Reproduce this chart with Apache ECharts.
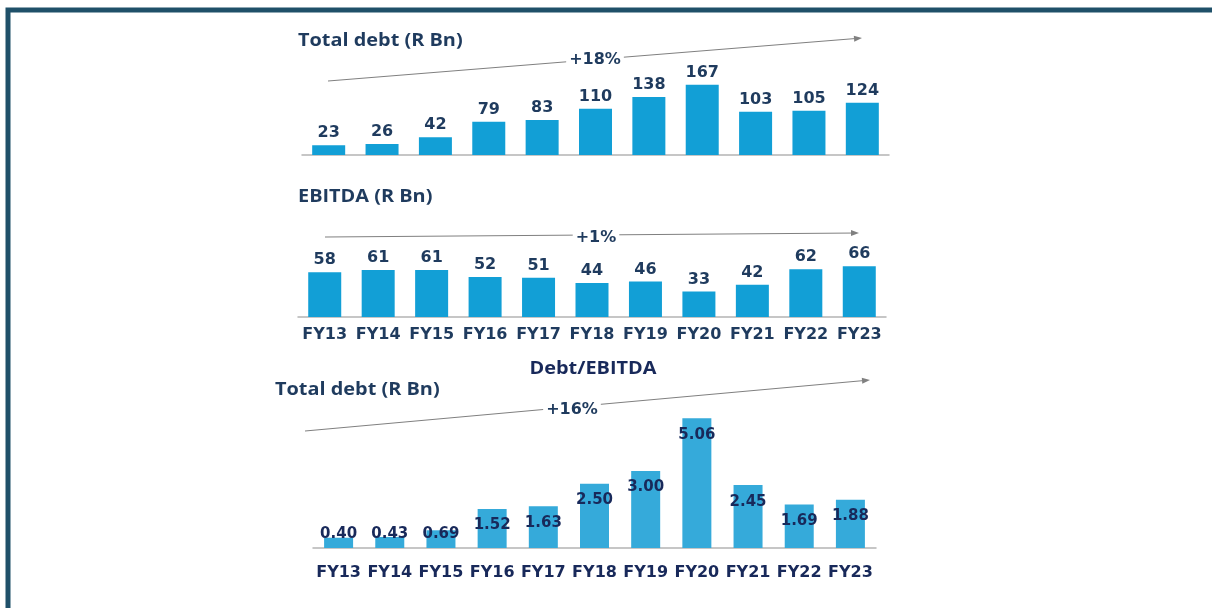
<!DOCTYPE html>
<html>
<head>
<meta charset="utf-8">
<script src="https://cdn.jsdelivr.net/npm/echarts@6/dist/echarts.min.js"></script>
<style>
  html, body { margin: 0; padding: 0; background: #fff; }
  #main { width: 1212px; height: 608px; }
</style>
</head>
<body>
<div id="main"></div>
<script>
// data
const years = ['FY13', 'FY14', 'FY15', 'FY16', 'FY17', 'FY18', 'FY19', 'FY20', 'FY21', 'FY22', 'FY23'];
const totalDebt = [23, 26, 42, 79, 83, 110, 138, 167, 103, 105, 124];
const ebitda = [58, 61, 61, 52, 51, 44, 46, 33, 42, 62, 66];
const debtToEbitda = [0.40, 0.43, 0.69, 1.52, 1.63, 2.50, 3.00, 5.06, 2.45, 1.69, 1.88];
const growthLabels = ['+18%', '+1%', '+16%'];
const panelTitles = ['Total debt (R Bn)', 'EBITDA (R Bn)', 'Debt/EBITDA', 'Total debt (R Bn)'];

const navy = '#1f3b5e';
const navy2 = '#18295a';
const numFont = 'DejaVu Sans';
const titleFont = 'Open Sans';

// thin grey trend arrow with a label sitting on it
function arrow(x1, y1, x2, y2, text, tx, ty) {
  const a = Math.atan2(y2 - y1, x2 - x1);
  const L = 8, W = 3;
  const bx = x2 - L * Math.cos(a), by = y2 - L * Math.sin(a);
  const px = -Math.sin(a) * W, py = Math.cos(a) * W;
  return [
    { type: 'line', shape: { x1: x1, y1: y1, x2: bx, y2: by }, style: { stroke: '#808080', lineWidth: 1 }, z: 10 },
    { type: 'polygon', shape: { points: [[x2, y2], [bx + px, by + py], [bx - px, by - py]] }, style: { fill: '#808080' }, z: 10 },
    { type: 'text', x: tx, y: ty, z: 11,
      style: { text: text, font: 'bold 16px "' + numFont + '"', fill: navy, align: 'center', verticalAlign: 'middle',
               backgroundColor: '#fff', padding: [0, 3] } }
  ];
}

// the slide text is a bit wider than any installed font, so stretch it a little
function title(text, x, y, color, align) {
  return { type: 'text', x: x, y: y, z: 10, scaleX: 1.17,
    style: { text: text, font: 'bold 17px "' + titleFont + '"', fill: color || navy, align: align || 'left', verticalAlign: 'middle' } };
}

const chart = echarts.init(document.getElementById('main'));

const axisLine = { show: true, lineStyle: { color: '#b4b4b4', width: 1.5 } };

const option = {
  animation: false,
  backgroundColor: '#fff',
  grid: [
    { left: 302, width: 587, top: 54, height: 101 },
    { left: 298, width: 588, top: 240, height: 77 },
    { left: 313, width: 563, top: 394, height: 154 }
  ],
  xAxis: [
    { type: 'category', gridIndex: 0, data: years, axisLine: axisLine, axisTick: { show: false }, axisLabel: { show: false } },
    { type: 'category', gridIndex: 1, data: years, axisLine: axisLine, axisTick: { show: false },
      axisLabel: { interval: 0, margin: 10, color: navy, fontFamily: numFont, fontWeight: 'bold', fontSize: 16 } },
    { type: 'category', gridIndex: 2, data: years, axisLine: axisLine, axisTick: { show: false },
      axisLabel: { interval: 0, margin: 17, color: navy2, fontFamily: numFont, fontWeight: 'bold', fontSize: 16 } }
  ],
  yAxis: [
    { type: 'value', gridIndex: 0, min: 0, max: 240, show: false },
    { type: 'value', gridIndex: 1, min: 0, max: 100, show: false },
    { type: 'value', gridIndex: 2, min: 0, max: 6, show: false }
  ],
  series: [
    { type: 'bar', xAxisIndex: 0, yAxisIndex: 0, data: totalDebt, barWidth: 33,
      itemStyle: { color: '#129fd6' },
      label: { show: true, position: 'top', distance: 4, color: navy, fontFamily: numFont, fontWeight: 'bold', fontSize: 16 } },
    { type: 'bar', xAxisIndex: 1, yAxisIndex: 1, data: ebitda, barWidth: 33,
      itemStyle: { color: '#129fd6' },
      label: { show: true, position: 'top', distance: 4, color: navy, fontFamily: numFont, fontWeight: 'bold', fontSize: 16 } },
    { type: 'bar', xAxisIndex: 2, yAxisIndex: 2, barWidth: 29,
      data: debtToEbitda.map(v => v < 1
        ? { value: v, label: { position: 'insideBottom', distance: 6 } }
        : v),
      itemStyle: { color: '#35aada' },
      label: { show: true, position: 'insideTop', distance: 9, color: navy2, fontFamily: numFont, fontWeight: 'bold', fontSize: 15,
               formatter: p => p.value.toFixed(2) } }
  ],
  graphic: [
    // frame
    { type: 'rect', shape: { x: 8, y: 10, width: 1400, height: 800 }, style: { fill: null, stroke: '#1f5069', lineWidth: 5 }, z: 5 },
    title(panelTitles[0], 298, 41),
    title(panelTitles[1], 298, 197),
    title(panelTitles[2], 593, 369, navy2, 'center'),
    title(panelTitles[3], 275, 390)
  ]
    .concat(arrow(328, 81, 862, 38, growthLabels[0], 595, 60))
    .concat(arrow(325, 237, 859, 233, growthLabels[1], 596, 238))
    .concat(arrow(305, 431, 870, 380, growthLabels[2], 572, 410))
};

chart.setOption(option);
</script>
</body>
</html>
